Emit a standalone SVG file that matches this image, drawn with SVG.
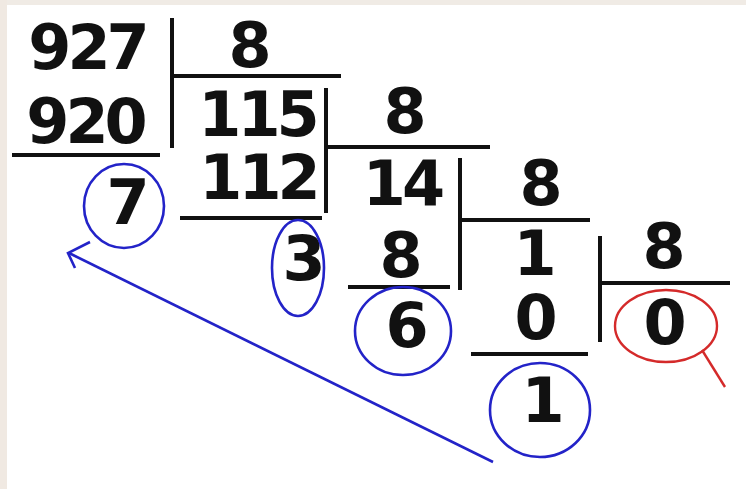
<svg xmlns="http://www.w3.org/2000/svg" width="746" height="489" viewBox="0 0 746 489">
<style>
.n{font-family:"DejaVu Sans","Verdana",sans-serif;font-weight:bold;font-size:62px;fill:#111;text-anchor:middle;letter-spacing:-4px}
.k{stroke:#111;stroke-width:4;fill:none}
.b{stroke:#2323c8;stroke-width:2.6;fill:none}
.r{stroke:#d42a2a;stroke-width:2.4;fill:none}
</style>
<rect width="746" height="489" fill="#ffffff"/>
<rect x="0" y="0" width="746" height="5" fill="#f0ebe5"/>
<rect x="0" y="0" width="7" height="489" fill="#f0e9e2"/>
<g id="step1">
<text class="n" x="87" y="69">927</text>
<text class="n" x="85" y="143">920</text>
<line class="k" x1="12" y1="155" x2="160" y2="155"/>
<line class="k" x1="172" y1="18" x2="172" y2="148"/>
<line class="k" x1="172" y1="76" x2="341" y2="76"/>
<text class="n" x="248" y="67">8</text>
</g>
<g id="step2">
<text class="n" x="257" y="136">115</text>
<text class="n" x="258" y="199">112</text>
<line class="k" x1="180" y1="218" x2="322" y2="218"/>
<line class="k" x1="326" y1="88" x2="326" y2="213"/>
<line class="k" x1="326" y1="147" x2="490" y2="147"/>
<text class="n" x="403" y="133">8</text>
</g>
<g id="step3">
<text class="n" x="402" y="205">14</text>
<text class="n" x="399" y="277">8</text>
<line class="k" x1="348" y1="287" x2="450" y2="287"/>
<line class="k" x1="460" y1="158" x2="460" y2="290"/>
<line class="k" x1="460" y1="220" x2="590" y2="220"/>
<text class="n" x="539" y="205">8</text>
</g>
<g id="step4">
<text class="n" x="533" y="275">1</text>
<text class="n" x="534" y="339">0</text>
<line class="k" x1="471" y1="354" x2="588" y2="354"/>
<line class="k" x1="600" y1="236" x2="600" y2="342"/>
<line class="k" x1="600" y1="283" x2="730" y2="283"/>
<text class="n" x="662" y="268">8</text>
</g>
<g id="rem7">
<text class="n" x="126" y="224">7</text>
<ellipse class="b" cx="124" cy="206" rx="40" ry="42"/>
</g>
<g id="rem3">
<text class="n" x="302" y="280">3</text>
<ellipse class="b" cx="298" cy="268" rx="26" ry="48"/>
</g>
<g id="rem6">
<text class="n" x="405" y="347">6</text>
<ellipse class="b" cx="403" cy="331" rx="48" ry="44"/>
</g>
<g id="rem1">
<text class="n" x="541" y="422">1</text>
<ellipse class="b" cx="540" cy="410" rx="50" ry="47"/>
</g>
<g id="quot0">
<text class="n" x="663" y="344">0</text>
<ellipse class="r" cx="666" cy="326" rx="51" ry="36"/>
<line class="r" x1="702" y1="350" x2="725" y2="387"/>
</g>
<g id="connectors">
<line class="b" x1="493" y1="462" x2="69" y2="253"/>
<path class="b" d="M90,242 L68,253 L75,268"/>
</g>
</svg>
